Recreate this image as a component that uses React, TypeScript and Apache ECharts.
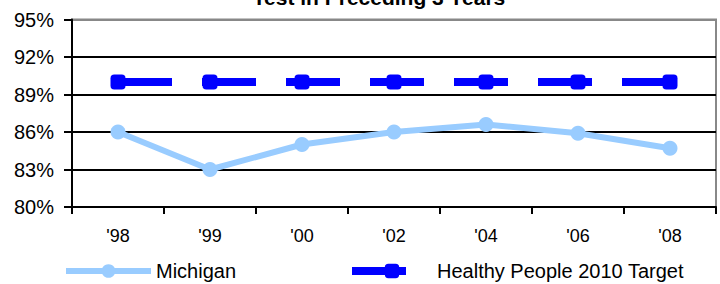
import React, { useEffect, useRef } from "react";
import * as echarts from "echarts";

const categories = ["'98", "'99", "'00", "'02", "'04", "'06", "'08"];
const michigan = [86.0, 83.0, 85.0, 86.0, 86.6, 85.9, 84.7];
const target = [90, 90, 90, 90, 90, 90, 90];
const titleText = "Test in Preceding 3 Years";
const FONT = "'Liberation Sans', Arial, sans-serif";

export default function App() {
  const ref = useRef<HTMLDivElement>(null);
  useEffect(() => {
    const chart = echarts.init(ref.current!, null, { renderer: "svg" });
    chart.setOption({
      animation: false,
      textStyle: { fontFamily: FONT, color: "#000" },
      graphic: [
        {
          type: "text",
          x: 379,
          y: -3,
          style: {
            text: titleText,
            font: `bold 21px ${FONT}`,
            fill: "#000",
            textAlign: "center",
            textVerticalAlign: "middle",
          },
        },
      ],
      grid: {
        left: 72,
        right: 4,
        top: 19.5,
        bottom: 77,
        show: true,
        borderColor: "#888",
        borderWidth: 2,
      },
      legend: [
        {
          data: [{ name: "Michigan" }],
          left: 63,
          top: 261,
          padding: 0,
          itemWidth: 85,
          itemHeight: 17,
          lineStyle: { width: "inherit" },
          textStyle: { fontSize: 20, fontFamily: FONT, color: "#000" },
        },
        {
          data: [{ name: "Healthy People 2010 Target" }],
          left: 348,
          top: 261,
          padding: 0,
          itemWidth: 80,
          itemHeight: 18,
          lineStyle: { width: "inherit" },
          textStyle: { fontSize: 20, fontFamily: FONT, color: "#000" },
        },
      ],
      xAxis: {
        type: "category",
        data: categories,
        boundaryGap: true,
        axisLine: { lineStyle: { color: "#000", width: 2 } },
        axisTick: { show: true, length: 7, lineStyle: { color: "#000", width: 2 } },
        axisLabel: { fontSize: 18, color: "#000", margin: 20, fontFamily: FONT },
        splitLine: { show: false },
      },
      yAxis: {
        type: "value",
        min: 80,
        max: 95,
        interval: 3,
        axisLine: { show: true, lineStyle: { color: "#000", width: 2 } },
        axisTick: { show: true, length: 8, lineStyle: { color: "#000", width: 2 } },
        axisLabel: {
          fontSize: 20,
          color: "#000",
          margin: 18,
          fontFamily: FONT,
          formatter: "{value}%",
        },
        splitLine: {
          show: true,
          lineStyle: {
            color: ["#000", "#000", "#000", "#000", "#000", "#888"],
            width: 2,
          },
        },
      },
      series: [
        {
          name: "Michigan",
          type: "line",
          data: michigan,
          symbol: "circle",
          symbolSize: 15,
          lineStyle: { color: "#99CCFF", width: 6 },
          itemStyle: { color: "#99CCFF" },
          z: 3,
        },
        {
          name: "Healthy People 2010 Target",
          type: "line",
          data: target,
          symbol: "roundRect",
          symbolSize: 15,
          lineStyle: { color: "#0000FF", width: 8, type: [54, 30] },
          itemStyle: { color: "#0000FF" },
          z: 4,
        },
      ],
    });
    return () => chart.dispose();
  }, []);
  return <div ref={ref} style={{ width: 720, height: 284, position: "absolute", left: 0, top: 0 }} />;
}
